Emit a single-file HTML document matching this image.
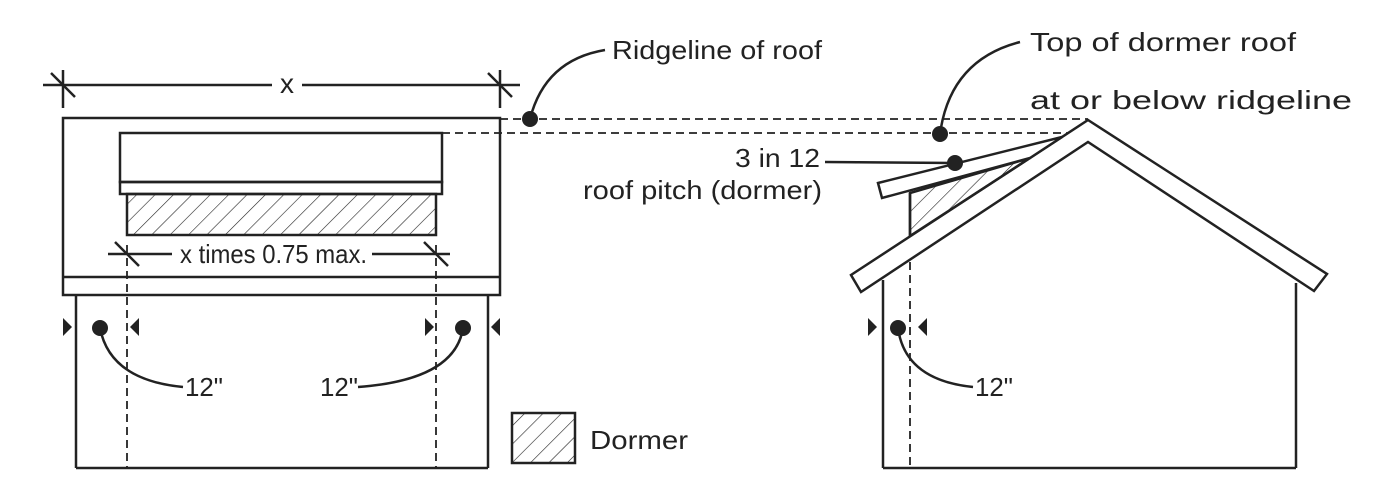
<!DOCTYPE html>
<html><head><style>body{margin:0;background:#fff}svg{display:block}</style></head><body>
<svg width="1376" height="493" viewBox="0 0 1376 493" xmlns="http://www.w3.org/2000/svg" font-family="Liberation Sans, sans-serif" font-size="26" fill="none" stroke="#222" stroke-width="2.5">
<defs>
<pattern id="h" patternUnits="userSpaceOnUse" width="13" height="13" patternTransform="rotate(45)">
<line x1="0" y1="0" x2="0" y2="13" stroke="#222" stroke-width="1.2"/>
</pattern>
</defs>
<!-- top dimension -->
<line x1="43" y1="85" x2="272" y2="85"/><line x1="302" y1="85" x2="520" y2="85"/>
<line x1="63" y1="70" x2="63" y2="108"/><line x1="500" y1="70" x2="500" y2="108"/>
<line x1="51" y1="73" x2="75" y2="97"/><line x1="488" y1="73" x2="512" y2="97"/>
<text x="287" y="93" text-anchor="middle" fill="#222" stroke="none" font-size="28">x</text>
<!-- plan view -->
<rect x="63" y="118" width="437" height="177"/>
<line x1="63" y1="277" x2="500" y2="277"/>
<rect x="120" y="133" width="322" height="49"/>
<rect x="120" y="182" width="322" height="12"/>
<rect x="127" y="194" width="309" height="41" fill="url(#h)"/>
<line x1="108" y1="254" x2="172" y2="254"/><line x1="372" y1="254" x2="450" y2="254"/>
<line x1="115" y1="242" x2="139" y2="266"/><line x1="424" y1="242" x2="448" y2="266"/>
<line x1="76" y1="295" x2="76" y2="468"/><line x1="488" y1="295" x2="488" y2="468"/>
<line x1="76" y1="468" x2="488" y2="468"/>
<g stroke-dasharray="8,5" stroke-width="1.8">
<line x1="127" y1="245" x2="127" y2="468"/><line x1="436" y1="245" x2="436" y2="468"/>
<line x1="500" y1="119" x2="1088" y2="119"/><line x1="442" y1="133" x2="1070" y2="133"/>
<line x1="910" y1="236" x2="910" y2="468"/>
</g>
<!-- elevation -->
<polygon points="1088,120 1327,274 1314,291 1088,142 861,292 851,275" fill="#fff"/>
<polygon points="910,193 910,236 1030,158" fill="url(#h)"/>
<line x1="910" y1="193" x2="910" y2="236"/>
<polygon points="878,183 1062,137 1030,158 882,198" fill="#fff"/>
<line x1="883" y1="280" x2="883" y2="468"/><line x1="1296" y1="283" x2="1296" y2="468"/>
<line x1="883" y1="468" x2="1296" y2="468"/>
<rect x="512" y="413" width="63" height="50" fill="url(#h)"/>
<path d="M100,328 Q110,380 183,387"/><path d="M463,328 Q455,380 358,387"/><path d="M898,328 Q905,380 973,387"/>
<path d="M530,119 Q545,60 605,50"/><path d="M940,134 Q950,60 1020,42"/>
<line x1="825" y1="162" x2="955" y2="163"/>
<g fill="#222" stroke="none">
<polygon points="63,318 72,327 63,336"/><polygon points="139,318 130,327 139,336"/>
<polygon points="425,318 434,327 425,336"/><polygon points="500,318 491,327 500,336"/>
<polygon points="868,318 877,327 868,336"/><polygon points="927,318 918,327 927,336"/>
<circle cx="100" cy="328" r="8"/><circle cx="463" cy="328" r="8"/><circle cx="898" cy="328" r="8"/>
<circle cx="530" cy="119" r="8"/><circle cx="940" cy="134" r="8"/><circle cx="955" cy="163" r="8"/>
<text x="180" y="263" textLength="187" lengthAdjust="spacingAndGlyphs">x  times 0.75 max.</text>
<text x="185" y="396" textLength="38" lengthAdjust="spacingAndGlyphs">12"</text>
<text x="320" y="396" textLength="38" lengthAdjust="spacingAndGlyphs">12"</text>
<text x="975" y="396" textLength="38" lengthAdjust="spacingAndGlyphs">12"</text>
<text x="612" y="59" textLength="210" lengthAdjust="spacingAndGlyphs">Ridgeline of roof</text>
<text x="1030" y="51" textLength="266" lengthAdjust="spacingAndGlyphs">Top of dormer roof</text>
<text x="1030" y="109" textLength="322" lengthAdjust="spacingAndGlyphs">at or below ridgeline</text>
<text x="735" y="167" textLength="85" lengthAdjust="spacingAndGlyphs">3 in 12</text>
<text x="583" y="199" textLength="239" lengthAdjust="spacingAndGlyphs">roof pitch (dormer)</text>
<text x="590" y="449" textLength="98" lengthAdjust="spacingAndGlyphs">Dormer</text>
</g>
</svg>
</body></html>
